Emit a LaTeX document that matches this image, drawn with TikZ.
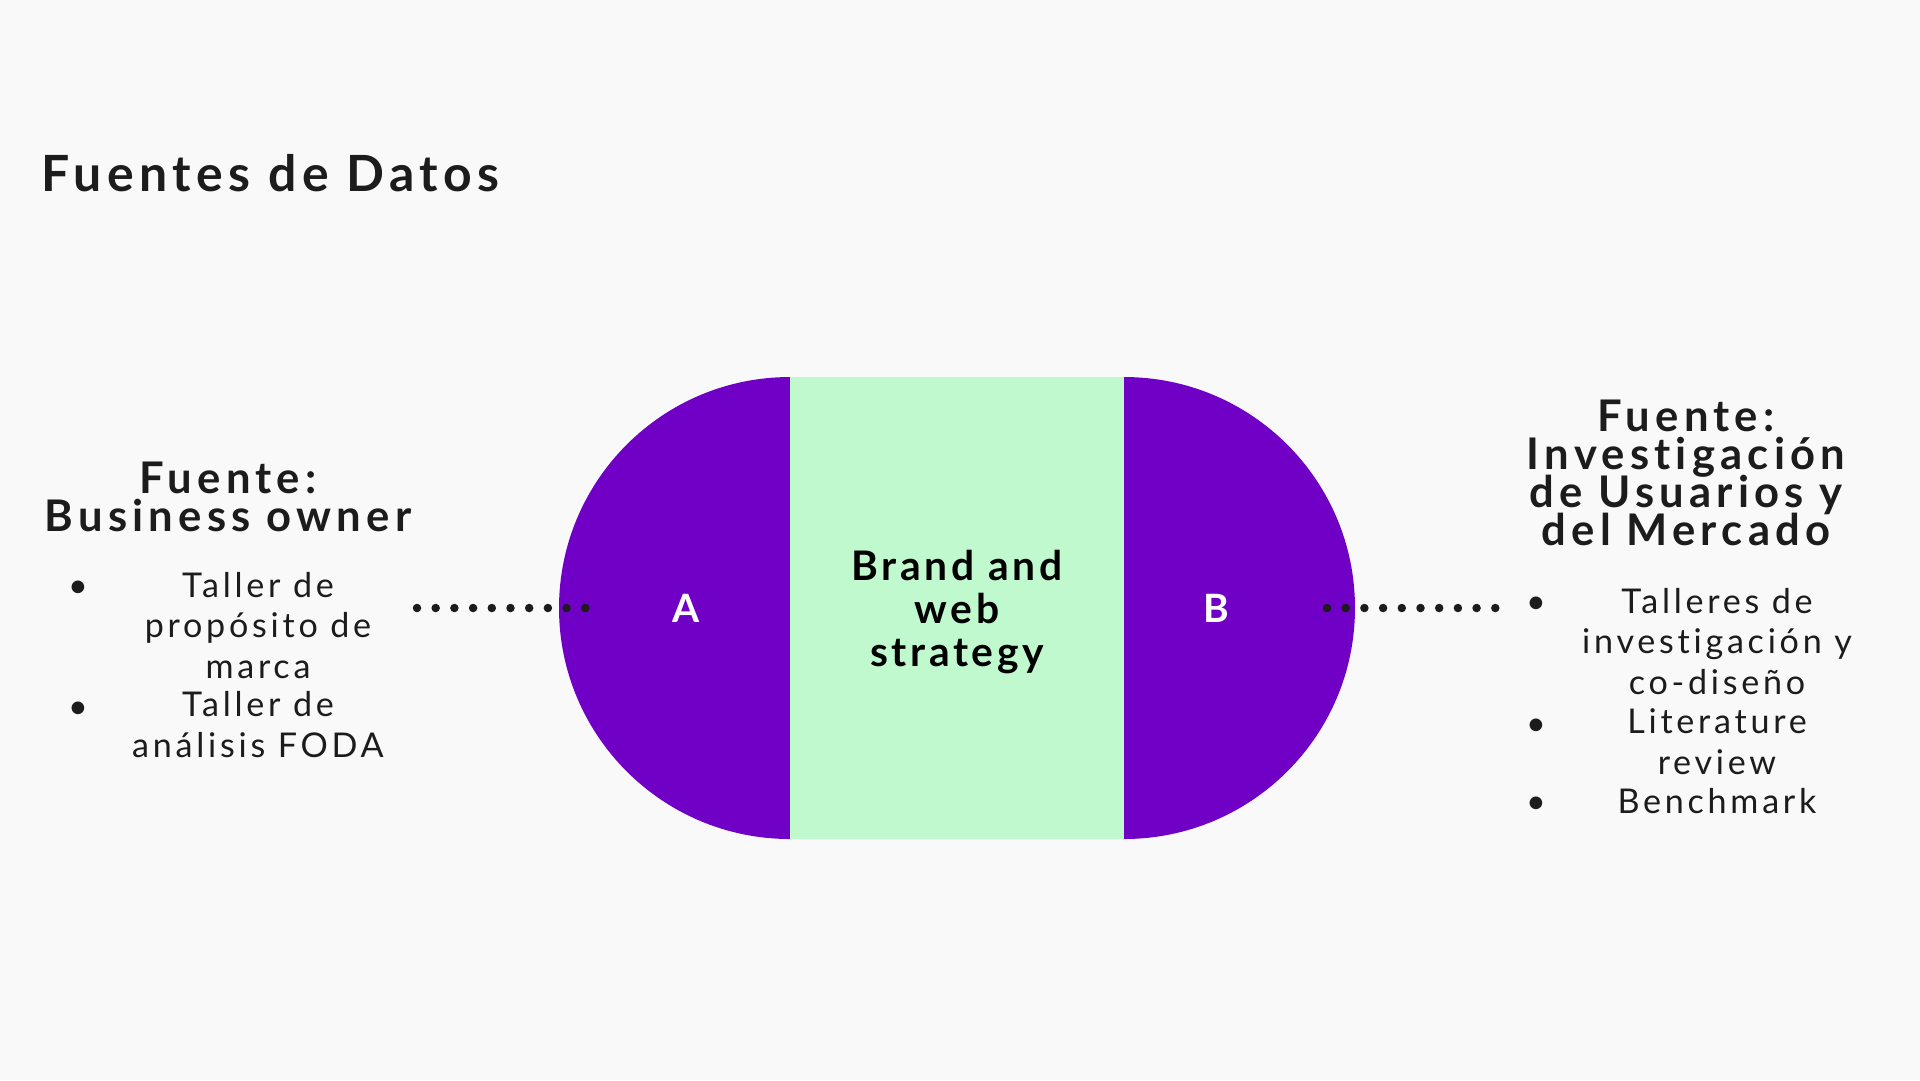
\documentclass[tikz,border=0pt]{standalone}
\usepackage{fontspec}
\setmainfont{Lato}
\newfontfamily\titlefont[LetterSpace=11,Ligatures=NoCommon]{Lato}
\newfontfamily\headfont[LetterSpace=12,Ligatures=NoCommon]{Lato}
\newfontfamily\itemfont[LetterSpace=11,Ligatures=NoCommon]{Lato}
\newfontfamily\corefont[LetterSpace=9,Ligatures=NoCommon]{Lato}
\newcommand\tightlines{\lineskiplimit=-20pt\relax}
\definecolor{bgcol}{HTML}{F9F9F9}
\definecolor{sidepurple}{HTML}{7000C6}
\definecolor{midgreen}{HTML}{C1F9CF}
\definecolor{ink}{HTML}{1C1C1C}
\tikzset{
  heading/.style={align=center, anchor=base, text=ink, font=\headfont\bfseries\fontsize{12.4pt}{10.8pt}\selectfont\tightlines},
  item/.style={align=center, anchor=base, text=ink, font=\itemfont\fontsize{9.7pt}{11.4pt}\selectfont\tightlines},
  bulletmark/.style={anchor=base, text=ink, font=\itemfont\fontsize{9.7pt}{11.4pt}\selectfont},
  letter/.style={anchor=base, text=white, font=\corefont\bfseries\fontsize{11.1pt}{12.2pt}\selectfont},
  core/.style={align=center, anchor=base, text=black, font=\corefont\bfseries\fontsize{11.6pt}{12.2pt}\selectfont\tightlines},
  dots/.style={ink, line width=0.85mm, line cap=round, dash pattern=on 0pt off 1.87mm}
}
\begin{document}
\begin{tikzpicture}[x=0.1mm,y=-0.1mm]

%Canvas
\fill[bgcol] (0,0) rectangle (1920,1080);
\useasboundingbox (0,0) rectangle (1920,1080);

%Shape sizes
\def\r{231}
\def\xa{790}
\def\xb{1124}
\def\ym{608}

%Drawing the capsule
\fill[sidepurple] (\xa,\ym) circle (\r);
\fill[sidepurple] (\xb,\ym) circle (\r);
\fill[midgreen] (\xa,\ym-\r) rectangle (\xb,\ym+\r);

%Title
\node[anchor=base west, inner sep=0pt, text=ink, font=\titlefont\bfseries\fontsize{14.2pt}{16pt}\selectfont] (title) at (41,191) {Fuentes de Datos};

%Capsule labels (base = last line)
\node[letter] (A) at (686,622) {A};
\node[letter] (B) at (1216,622) {B};
\node[core] (strategy) at (957,666) {Brand and\\web\\strategy};

%Left source
\node[heading] (ownerhead) at (228,531) {Fuente:\\Business owner};
\node[bulletmark] (lb1) at (78,597) {•};
\node[item] (litem1) at (258,678) {Taller de\\propósito de\\marca};
\node[bulletmark] (lb2) at (78,718) {•};
\node[item] (litem2) at (258,757) {Taller de\\análisis FODA};

%Right source
\node[heading] (researchhead) at (1686,545) {Fuente:\\Investigación\\de Usuarios y\\del Mercado};
\node[bulletmark] (rb1) at (1536,613) {•};
\node[item] (ritem1) at (1717,694) {Talleres de\\investigación y\\co-diseño};
\node[bulletmark] (rb2) at (1536,735) {•};
\node[item] (ritem2) at (1717,774) {Literature\\review};
\node[bulletmark] (rb3) at (1536,813) {•};
\node[item] (ritem3) at (1717,813) {Benchmark};

%Dotted links
\coordinate (dl1) at (417,\ym);
\coordinate (dl2) at (589,\ym);
\coordinate (dr1) at (1327,\ym);
\coordinate (dr2) at (1496,\ym);
\draw[dots] (dl1) -- (dl2);
\draw[dots] (dr1) -- (dr2);
\end{tikzpicture}
\end{document}
